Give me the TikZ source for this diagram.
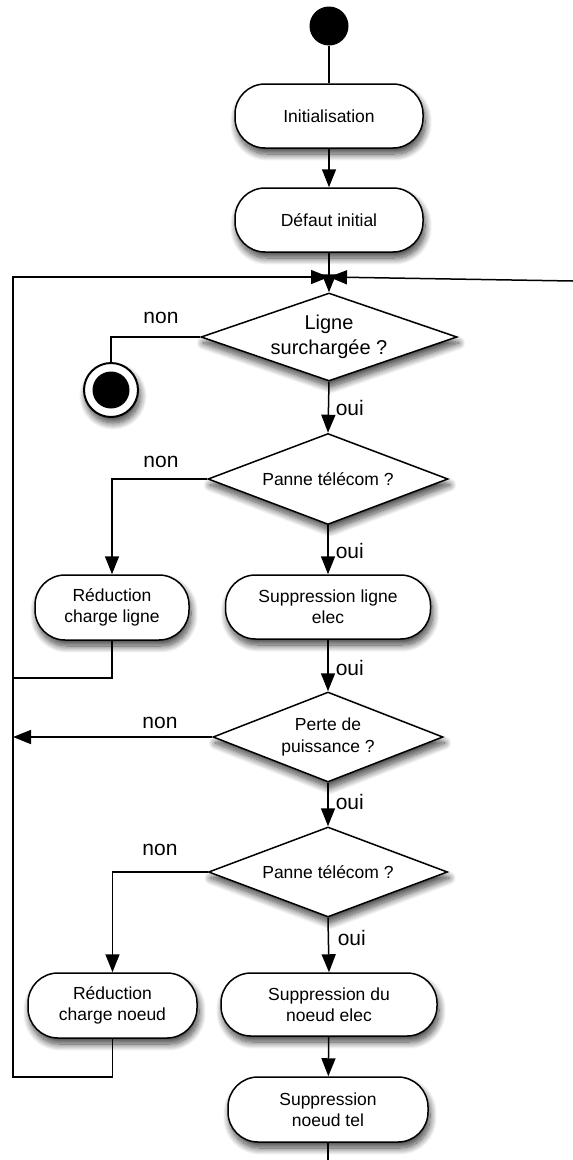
\documentclass[tikz,border=0pt]{standalone}
\usepackage{fontspec}
\setmainfont{Liberation Sans}
\usetikzlibrary{shapes.geometric,arrows.meta,shadows.blur}

\begin{document}
\begin{tikzpicture}[x=1pt,y=-1pt,
  line width=1.5pt,
  arr/.style={-{Triangle[length=18pt,width=14pt]}},
  softshadow/.style={blur shadow={shadow xshift=2pt,shadow yshift=-6pt,
      shadow blur radius=7pt,shadow blur steps=14,shadow opacity=75}},
  act/.style={draw, rounded corners=30pt, fill=white, softshadow, align=center,
      inner sep=0pt, font=\fontsize{17.5}{21}\selectfont},
  dec/.style={draw, diamond, fill=white, softshadow, inner sep=0pt},
  dtext/.style={align=center, inner sep=0pt, font=\fontsize{17.5}{22}\selectfont},
  lbl/.style={font=\fontsize{21}{24}\selectfont, inner sep=0pt},
]
\useasboundingbox (0,0) rectangle (573,1160);

% start and end markers
\node[circle, fill=black, minimum size=39pt, inner sep=0pt] (start) at (329,26) {};
\node[circle, draw, line width=2pt, fill=white, minimum size=54pt, inner sep=0pt, softshadow] (endn) at (111,390) {};
\node[circle, fill=black, minimum size=37pt, inner sep=0pt] (endc) at (endn.center) {};

% actions
\node[act, minimum width=188pt, minimum height=64pt] (init) at (329,116) {Initialisation};
\node[act, minimum width=188pt, minimum height=64pt] (defaut) at (329,220) {Défaut initial};
\node[act, minimum width=154pt, minimum height=65pt] (rcl) at (112,607.5) {Réduction\\charge ligne};
\node[act, minimum width=205pt, minimum height=64pt] (sle) at (328,607) {Suppression ligne\\elec};
\node[act, minimum width=169pt, minimum height=65pt] (rcn) at (112.5,1005.5) {Réduction\\charge noeud};
\node[act, minimum width=216pt, minimum height=63pt] (sne) at (329,1004.5) {Suppression du\\noeud elec};
\node[act, minimum width=200pt, minimum height=65pt] (snt) at (328,1109.5) {Suppression\\noeud tel};

% decisions
\node[dec, minimum width=256pt, minimum height=88pt,
  label={[dtext, font=\fontsize{20}{25}\selectfont]center:{Ligne\\surchargée ?}}] (d1) at (329,337) {};
\node[dec, minimum width=240pt, minimum height=91pt,
  label={[dtext]center:{Panne télécom ?}}] (d2) at (328,479) {};
\node[dec, minimum width=230pt, minimum height=90pt,
  label={[dtext]center:{Perte de\\puissance ?}}] (d3) at (328,737) {};
\node[dec, minimum width=239pt, minimum height=90pt,
  label={[dtext]center:{Panne télécom ?}}] (d4) at (328,872) {};

% junction and loose ends
\coordinate (jn) at (329,277);
\coordinate (lb) at (13,1077);
\coordinate (lm) at (13,678);
\coordinate (re) at (573,281);
\coordinate (bot) at (328,1160);

% main flow
\draw (start) -- (init);
\draw[arr] (init) -- (defaut);
\draw[arr] (defaut) -- (d1.north);
\draw[arr] (d1.south) -- (d2.north);
\draw[arr] (d2.south) -- (sle.north);
\draw[arr] (sle.south) -- (d3.north);
\draw[arr] (d3.south) -- (d4.north);
\draw[arr] (d4.south) -- (sne.north);
\draw[arr] (sne) -- (snt);
\draw (snt.south) -- (bot);

% side branches
\draw (d1.west) -| (endn.north);
\draw[arr] (d2.west) -| (rcl.north);
\draw[arr] (d4.west) -| (rcn.north);
\draw[arr] (d3.west) -- (d3.west -| lb);

% loops back to the junction
\draw[arr] (rcn.south) |- (lb) |- (jn);
\draw (rcl.south) |- (lm);
\draw[arr] (re) -- (jn);

% branch labels
\node[lbl] (n1) at (161,318) {non};
\node[lbl] (n2) at (161,462) {non};
\node[lbl] (n3) at (160,723) {non};
\node[lbl] (n4) at (160,850) {non};
\node[lbl, anchor=west] (o1) at (335,408) {oui};
\node[lbl, anchor=west] (o2) at (335,551) {oui};
\node[lbl, anchor=west] (o3) at (335,668) {oui};
\node[lbl, anchor=west] (o4) at (335,802) {oui};
\node[lbl, anchor=west] (o5) at (337,938) {oui};
\end{tikzpicture}
\end{document}
